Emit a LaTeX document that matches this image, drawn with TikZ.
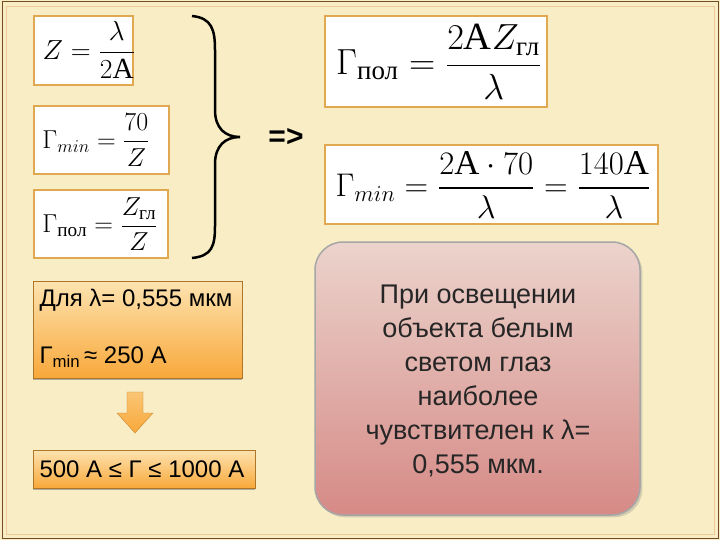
\documentclass[tikz,border=0pt]{standalone}
\usepackage{amsmath}
\usepackage{fontspec}
\setmainfont{Liberation Serif}
\newfontfamily\sans{Liberation Sans}
\usetikzlibrary{shadows}
\definecolor{cream}{HTML}{F8EDC4}
\definecolor{frm}{HTML}{E0A850}
\definecolor{orT}{HTML}{FDE3B0}
\definecolor{orB}{HTML}{F8A83A}
\definecolor{pkT}{HTML}{EBD3CC}
\definecolor{pkB}{HTML}{D68A86}
\tikzset{
 fbox/.style={draw=frm,line width=1.5pt,fill=white,inner sep=0pt},
 obox/.style={top color=orT,bottom color=orB,draw=orB!70!black,line width=0.4pt,drop shadow={shadow xshift=0pt,shadow yshift=-2pt,opacity=0.6}},
 ftxt/.style={font=\fontsize{22}{26}\selectfont,anchor=west,transform shape},
 stxt/.style={font=\sans\fontsize{24}{28}\selectfont,anchor=west},
}
\begin{document}
\begin{tikzpicture}[x=1pt,y=-1pt]
\useasboundingbox (0,0) rectangle (720,540);
\fill[cream] (0,0) rectangle (720,540);
\draw[brown!60!black,line width=1pt] (2,2) rectangle (718,538);
\draw[frm!60,line width=0.6pt] (6,6) rectangle (714,534);
% left formula boxes
\draw[fbox] (34,16) rectangle (133,85);
\node[ftxt,scale=1.33] (f1) at (38,50) {$Z=\dfrac{\lambda}{2\text{A}}$};
\draw[fbox] (34,106) rectangle (169,174);
\node[ftxt,scale=1.25] (f2) at (38,140) {$\Gamma_{min}=\dfrac{70}{Z}$};
\draw[fbox] (34,190) rectangle (168,258);
\node[ftxt,scale=1.25] (f3) at (38,224) {$\Gamma_{\text{пол}}=\dfrac{Z_{\text{гл}}}{Z}$};
% brace
\draw[line width=2.5pt] (192,16) .. controls (212,18) and (215,30) .. (215,50) -- (215,110) .. controls (215,128) and (225,137) .. (240,137)
  .. controls (225,137) and (215,146) .. (215,164) -- (215,226) .. controls (215,246) and (212,256) .. (192,258);
\node[font=\sans\bfseries\fontsize{30}{34}\selectfont] (impl) at (286,137) {=>};
% right formula boxes
\draw[fbox] (325,16) rectangle (547,107);
\node[ftxt,scale=1.75] (f4) at (330,62) {$\Gamma_{\text{пол}}=\dfrac{2\text{A}Z_{\text{гл}}}{\lambda}$};
\draw[fbox] (325,145) rectangle (658,224);
\node[ftxt,scale=1.58] (f5) at (330,185) {$\Gamma_{min}=\dfrac{2\text{A}\cdot70}{\lambda}=\dfrac{140\text{A}}{\lambda}$};
% orange boxes
\draw[obox] (33,281) rectangle (242,378);
\node[stxt] (t1) at (36,300) {Для λ= 0,555 мкм};
\node[stxt] (t2) at (36,357) {Г\textsubscript{min}\,≈ 250 А};
\draw[obox] (33,450) rectangle (255,488);
\node[stxt] (t3) at (36,469) {500 А ≤ Г ≤ 1000 А};
% arrow
\draw[top color=orT!50!orB,bottom color=orB,draw=orB!80!black] (127,392) -- (143,392) -- (143,413) -- (153,413) -- (135,433) -- (117,413) -- (127,413) -- cycle;
% pink box
\draw[rounded corners=28pt,top color=pkT,bottom color=pkB,draw=gray!70,line width=1.5pt,drop shadow={opacity=0.3}] (315,242) rectangle (640,515);
\node[font=\sans\fontsize{27}{34}\selectfont,align=center,text=black!85] (pt) at (478,381) {При освещении\\объекта белым\\светом глаз\\наиболее\\чувствителен к λ=\\0,555 мкм.};
\end{tikzpicture}
\end{document}
